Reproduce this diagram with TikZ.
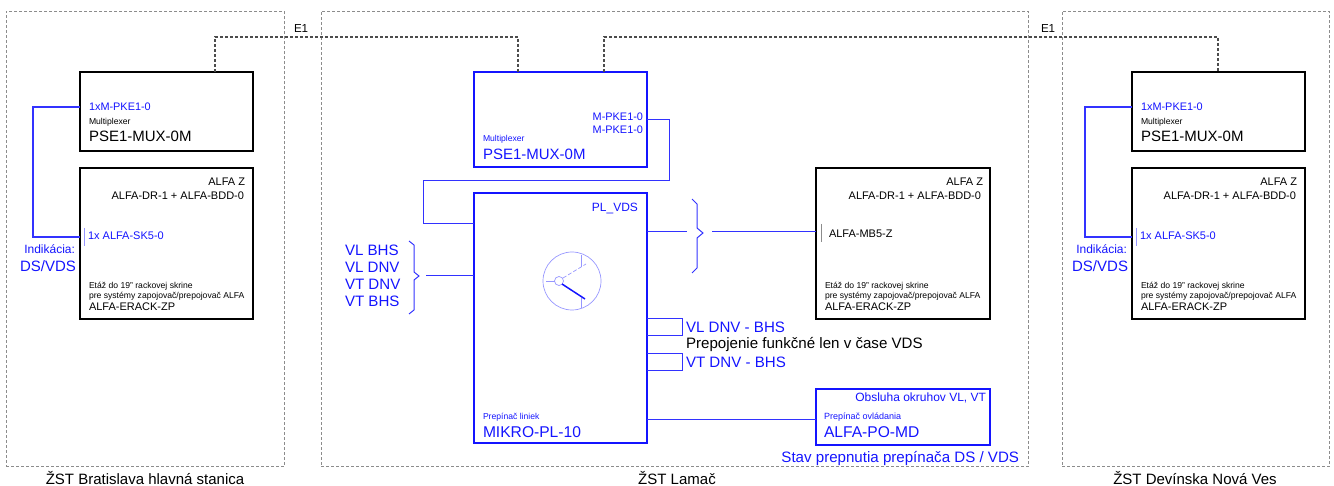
\documentclass[tikz,border=0pt]{standalone}
\usepackage{fontspec}
\setmainfont{Liberation Sans}
\definecolor{bl}{RGB}{20,20,255}
\definecolor{wr}{RGB}{50,50,255}
\definecolor{dialc}{RGB}{150,150,255}
\tikzset{
 x=1pt,y=-1pt,
 frame/.style={draw=black!45,dash pattern=on 3pt off 2pt,line width=.6pt,inner sep=0,outer sep=0},
 kbox/.style={draw=black,line width=1.8pt,inner sep=0,outer sep=0},
 bbox/.style={draw=bl,line width=1.8pt,inner sep=0,outer sep=0},
 e1/.style={draw=black!70,line width=1.1pt,dash pattern=on 3pt off 2pt},
 wire/.style={draw=wr,line width=1pt},
 widewire/.style={draw=wr,line width=1.15pt},
 tick/.style={draw=black!45,line width=.5pt},
 tl/.style={anchor=base west,inner sep=0,outer sep=0},
 tr/.style={anchor=base east,inner sep=0,outer sep=0},
 tc/.style={anchor=base,inner sep=0,outer sep=0},
 fa/.style={font=\fontsize{8.6}{10}\selectfont},
 fb/.style={font=\fontsize{10.9}{12}\selectfont},
 fc/.style={font=\fontsize{11}{13}\selectfont},
 fd/.style={font=\fontsize{15}{17}\selectfont},
 fe/.style={font=\fontsize{15.1}{17}\selectfont},
 ft/.style={font=\fontsize{15}{17}\selectfont},
}
\begin{document}
\begin{tikzpicture}
\useasboundingbox (0,0) rectangle (1334,486);
% frames
\node[frame,minimum width=278pt,minimum height=455pt] (fL) at (145,239) {};
\node[frame,minimum width=707pt,minimum height=455pt] (fC) at (674.5,239) {};
\node[frame,minimum width=267pt,minimum height=455pt] (fR) at (1195.5,239) {};
% boxes
\node[kbox,minimum width=173pt,minimum height=79pt] (muxL) at (166.5,111.5) {};
\node[kbox,minimum width=173pt,minimum height=151pt] (alfL) at (166.5,243.5) {};
\node[kbox,minimum width=173pt,minimum height=79pt] (muxR) at (1218.5,111.5) {};
\node[kbox,minimum width=173pt,minimum height=151pt] (alfR) at (1218.5,243.5) {};
\node[kbox,minimum width=174pt,minimum height=151pt] (alfC) at (903,243.5) {};
\node[bbox,minimum width=173pt,minimum height=95pt] (muxC) at (474+86.5,119.5) {};
\node[bbox,minimum width=173pt,minimum height=250pt] (pl) at (474+86.5,318) {};
\node[bbox,minimum width=174pt,minimum height=56pt] (po) at (903,417) {};
% junction coordinates
\coordinate (e1a) at (215,37);
\coordinate (e1b) at (518,37);
\coordinate (e1c) at (604,37);
\coordinate (e1d) at (1218,37);
\coordinate (lA) at (33,107);
\coordinate (lB) at (33,237);
\coordinate (rA) at (1085,107);
\coordinate (rB) at (1085,237);
\coordinate (cA) at (669,120);
\coordinate (cB) at (669,181);
\coordinate (cC) at (423,181);
\coordinate (cD) at (423,224);
\coordinate (brL) at (426,276);
\coordinate (brRa) at (687,232);
\coordinate (brRb) at (712,232);
\coordinate (la) at (682,319);
\coordinate (lb) at (682,336);
\coordinate (lc) at (682,354);
\coordinate (ld) at (682,371);
\coordinate (pos) at (0,419);
% E1 dashed
\draw[e1] (muxL.north -| e1a) -- (e1a) -- (e1b) -- (muxC.north -| e1b);
\draw[e1] (muxC.north -| e1c) -- (e1c) -- (e1d) -- (muxR.north -| e1d);
% wires
\draw[widewire] (muxL.west |- lA) -- (lA) -- (lB) -- (alfL.west |- lB);
\draw[widewire] (muxR.west |- rA) -- (rA) -- (rB) -- (alfR.west |- rB);
\draw[wire] (muxC.east |- cA) -- (cA) -- (cB) -- (cC) -- (cD) -- (pl.west |- cD);
\draw[wire] (brL) -- (pl.west |- brL);
\draw[wire] (pl.east |- brRa) -- (brRa);
\draw[wire] (brRb) -- (alfC.west |- brRb);
\draw[wire] (pl.east |- la) -- (la) -- (lb) -- (pl.east |- lb);
\draw[wire] (pl.east |- lc) -- (lc) -- (ld) -- (pl.east |- ld);
\draw[wire] (pl.east |- pos) -- (po.west |- pos);
% braces
\draw[wire] (409,241) -- (414,245) -- (414,272) -- (419,276) -- (414,280) -- (414,310) -- (409,314);
\draw[wire] (692,199) -- (697,204) -- (697,228) -- (703,233) -- (697,238) -- (697,268) -- (692,273);
% ticks
\draw[tick,draw=dialc] (84.5,228) -- (84.5,246);
\draw[tick,draw=dialc] (1136.5,228) -- (1136.5,246);
\draw[tick] (821,224) -- (821,242);
% dial
\draw[dialc,line width=.7pt] (572,281) circle (29);
\draw[dialc,line width=.7pt] (559,281) circle (4.5);
\draw[dialc,line width=.7pt] (546,281) -- (554.5,281);
\draw[dialc,line width=.7pt,dash pattern=on 4pt off 2pt] (563,278) -- (586,264);
\draw[dialc,line width=.7pt] (581,255) -- (581,267);
\draw[dialc,line width=.7pt] (581,298) -- (581,308);
\draw[bl,line width=1.5pt] (562,284) -- (585,299);
% texts: left and right stations
\foreach \dx/\sfx in {0/L,1052/R}{
 \node[tl,fb,bl] (a1\sfx) at (89+\dx,111) {1xM-PKE1-0};
 \node[tl,fa] (a2\sfx) at (89+\dx,125) {Multiplexer};
 \node[tl,fd] (a3\sfx) at (89+\dx,142) {PSE1-MUX-0M};
 \node[tr,fc] (a4\sfx) at (245+\dx,186) {ALFA Z};
 \node[tr,fc] (a5\sfx) at (244+\dx,200) {ALFA-DR-1 + ALFA-BDD-0};
 \node[tl,fc,bl] (a6\sfx) at (88+\dx,240) {1x ALFA-SK5-0};
 \node[tl,fa] (a7\sfx) at (89+\dx,289) {Etáž do 19" rackovej skrine};
 \node[tl,fa] (a8\sfx) at (89+\dx,299) {pre systémy zapojovač/prepojovač ALFA};
 \node[tl,fc] (a9\sfx) at (89+\dx,311) {ALFA-ERACK-ZP};
 \node[tr,bl,font=\fontsize{12}{14}\selectfont] (a10\sfx) at (75+\dx,254) {Indikácia:};
 \node[tr,fd,bl] (a11\sfx) at (76+\dx,272) {DS/VDS};
}
\node[tc,ft] (tL) at (145,484) {ŽST Bratislava hlavná stanica};
\node[tc,ft] (tC) at (677,484) {ŽST Lamač};
\node[tc,ft] (tR) at (1195,484) {ŽST Devínska Nová Ves};
\node[tl,font=\fontsize{11.6}{13}\selectfont] (e1l) at (294,33) {E1};
\node[tl,font=\fontsize{11.6}{13}\selectfont] (e1r) at (1041,33) {E1};
% centre
\node[tr,fb,bl] (c1) at (643,121) {M-PKE1-0};
\node[tr,fb,bl] (c2) at (643,134) {M-PKE1-0};
\node[tl,fa,bl] (c3) at (483,142) {Multiplexer};
\node[tl,fd,bl] (c4) at (483,160) {PSE1-MUX-0M};
\node[tr,bl,font=\fontsize{12}{14}\selectfont] (c5) at (638,212) {PL\_VDS};
\node[tl,fe,bl] (v1) at (345,256) {VL BHS};
\node[tl,fe,bl] (v2) at (345,273) {VL DNV};
\node[tl,fe,bl] (v3) at (345,290) {VT DNV};
\node[tl,fe,bl] (v4) at (345,307) {VT BHS};
\node[tl,fa,bl] (c6) at (483,419) {Prepínač liniek};
\node[tl,bl,font=\fontsize{15.6}{18}\selectfont] (c7) at (483,437) {MIKRO-PL-10};
% centre right
\node[tr,fc] (d1) at (983,186) {ALFA Z};
\node[tr,fc] (d2) at (981,200) {ALFA-DR-1 + ALFA-BDD-0};
\node[tl,fc] (d3) at (829,238) {ALFA-MB5-Z};
\node[tl,fa] (d4) at (825,289) {Etáž do 19" rackovej skrine};
\node[tl,fa] (d5) at (825,299) {pre systémy zapojovač/prepojovač ALFA};
\node[tl,fc] (d6) at (825,311) {ALFA-ERACK-ZP};
\node[tl,fe,bl] (l1) at (686,333) {VL DNV - BHS};
\node[tl,fe] (l2) at (686,349) {Prepojenie funkčné len v čase VDS};
\node[tl,fe,bl] (l3) at (686,367) {VT DNV - BHS};
\node[tr,bl,font=\fontsize{12}{14}\selectfont] (p1) at (986,402) {Obsluha okruhov VL, VT};
\node[tl,bl,font=\fontsize{9}{11}\selectfont] (p2) at (824,419) {Prepínač ovládania};
\node[tl,bl,font=\fontsize{15.6}{18}\selectfont] (p3) at (824,437) {ALFA-PO-MD};
\node[tr,fe,bl] (p4) at (1019,462) {Stav prepnutia prepínača DS / VDS};
\end{tikzpicture}
\end{document}
